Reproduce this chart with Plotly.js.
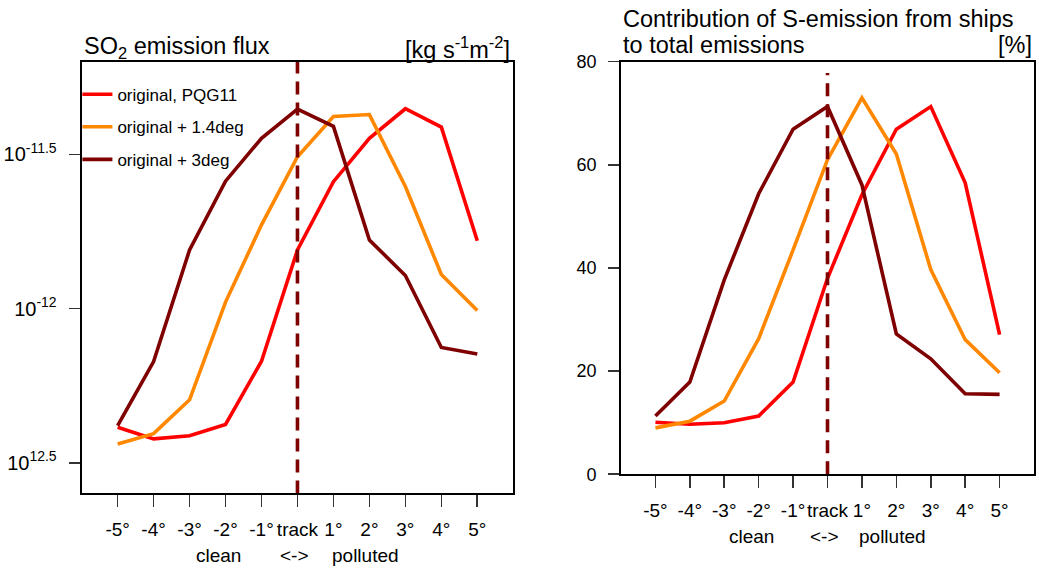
<!DOCTYPE html>
<html>
<head>
<meta charset="utf-8">
<script src="https://cdn.plot.ly/plotly-3.0.1.min.js"></script>
<style>
  html, body { margin: 0; padding: 0; background: #fff; }
  #chart { width: 1039px; height: 570px; }
</style>
</head>
<body>
<div id="chart"></div>
<script>
// ---- data ----
const offsets = [-5, -4, -3, -2, -1, 0, 1, 2, 3, 4, 5];
const offsetLabels = ['-5°', '-4°', '-3°', '-2°', '-1°', 'track', '1°', '2°', '3°', '4°', '5°'];
const seriesNames = ['original, PQG11', 'original + 1.4deg', 'original + 3deg'];

// SO2 emission flux [kg s-1 m-2]
const fluxOriginal = [4.12e-13, 3.78e-13, 3.87e-13, 4.21e-13, 6.75e-13, 1.55e-12, 2.58e-12, 3.57e-12, 4.45e-12, 3.88e-12, 1.66e-12];
const fluxPlus14   = [3.64e-13, 3.93e-13, 5.06e-13, 1.05e-12, 1.87e-12, 3.11e-12, 4.20e-12, 4.26e-12, 2.49e-12, 1.29e-12, 9.86e-13];
const fluxPlus3    = [4.17e-13, 6.73e-13, 1.55e-12, 2.59e-12, 3.57e-12, 4.44e-12, 3.90e-12, 1.67e-12, 1.28e-12, 7.48e-13, 7.13e-13];

// Contribution of ship S-emission to total emissions [%]
const pctOriginal = [10.1, 9.7, 10.0, 11.3, 17.9, 38.0, 54.2, 66.9, 71.3, 56.5, 27.1];
const pctPlus14   = [9.0, 10.3, 14.2, 26.3, 43.5, 61.0, 73.0, 62.1, 39.7, 26.1, 19.7];
const pctPlus3    = [11.3, 17.9, 37.7, 54.4, 66.9, 71.3, 56.1, 27.2, 22.4, 15.6, 15.5];

// track marker (vertical dashed line at offset 0)
const trackX = [0, 0];
const trackFluxY = [2.512e-13, 6.31e-12];
const trackPctY = [0, 77.8];

// y tick labels of the flux panel
const fluxTickVals = [3.162e-12, 1e-12, 3.162e-13];
const fluxTickText = ['10<sup>-11.5</sup>', '10<sup>-12</sup>', '10<sup>12.5</sup>'];
const pctTickVals = [0, 20, 40, 60, 80];

// ---- styling ----
const colors = ['#ff0000', '#ff8800', '#7f0000'];
const FONT = 'Liberation Sans, Arial, Helvetica, sans-serif';
const LW = 3.6;

const fluxSeries = [fluxOriginal, fluxPlus14, fluxPlus3];
const pctSeries = [pctOriginal, pctPlus14, pctPlus3];

const traces = [];
fluxSeries.forEach((ys, i) => {
  traces.push({
    x: offsets, y: ys, type: 'scatter', mode: 'lines',
    name: seriesNames[i], legendgroup: 'g' + i,
    line: { color: colors[i], width: LW },
    xaxis: 'x', yaxis: 'y', showlegend: true
  });
});
traces.push({
  x: trackX, y: trackFluxY, type: 'scatter', mode: 'lines',
  line: { color: '#7f0000', width: LW, dash: '13px,8px' },
  xaxis: 'x', yaxis: 'y', showlegend: false
});
pctSeries.forEach((ys, i) => {
  traces.push({
    x: offsets, y: ys, type: 'scatter', mode: 'lines',
    name: seriesNames[i],
    line: { color: colors[i], width: LW },
    xaxis: 'x2', yaxis: 'y2', showlegend: false
  });
});
traces.push({
  x: trackX, y: trackPctY, type: 'scatter', mode: 'lines',
  line: { color: '#7f0000', width: LW, dash: '13px,8px' },
  xaxis: 'x2', yaxis: 'y2', showlegend: false
});

const xCommon = {
  range: [-6, 6], tickmode: 'array', tickvals: offsets, ticktext: offsetLabels,
  tickangle: 0, ticklabelstandoff: 6,
  showline: true, mirror: true, linecolor: '#000', linewidth: 2,
  ticks: 'outside', ticklen: 12, tickwidth: 1.6, tickcolor: '#333',
  showgrid: false, zeroline: false,
  tickfont: { family: FONT, size: 19, color: '#000' }
};
const yCommon = {
  showline: true, mirror: true, linecolor: '#000', linewidth: 2,
  ticks: 'outside', ticklen: 11, tickwidth: 1.6, tickcolor: '#333',
  showgrid: false, zeroline: false, ticklabelstandoff: 8,
  tickfont: { family: FONT, size: 18, color: '#000' }
};

function axisLabels(xref, yPaper) {
  const f = { family: FONT, size: 19, color: '#000' };
  return [
    { text: 'clean', x: -2.2, xref: xref, y: yPaper, yref: 'paper', yanchor: 'middle', showarrow: false, font: f },
    { text: '&lt;-&gt;', x: -0.08, xref: xref, y: yPaper, yref: 'paper', yanchor: 'middle', showarrow: false, font: f },
    { text: 'polluted', x: 1.9, xref: xref, y: yPaper, yref: 'paper', yanchor: 'middle', showarrow: false, font: f }
  ];
}

const TF = { family: FONT, size: 23.5, color: '#000' };
const annotations = [
  { text: 'SO<sub>2</sub> emission flux', x: 0.0786, xanchor: 'left', y: 0.9158, yanchor: 'middle', xref: 'paper', yref: 'paper', showarrow: false, font: TF },
  { text: '[kg s<sup>-1</sup>m<sup>-2</sup>]', x: 0.4930, xanchor: 'right', y: 0.9158, yanchor: 'middle', xref: 'paper', yref: 'paper', showarrow: false, font: TF },
  { text: 'Contribution of S-emission from ships', x: 0.5977, xanchor: 'left', y: 0.9667, yanchor: 'middle', xref: 'paper', yref: 'paper', showarrow: false, font: TF },
  { text: 'to total emissions', x: 0.5977, xanchor: 'left', y: 0.921, yanchor: 'middle', xref: 'paper', yref: 'paper', showarrow: false, font: TF },
  { text: '[%]', x: 0.9952, xanchor: 'right', y: 0.921, yanchor: 'middle', xref: 'paper', yref: 'paper', showarrow: false, font: TF }
].concat(axisLabels('x', 0.0263), axisLabels('x2', 0.0579));

const layout = {
  width: 1039, height: 570,
  margin: { l: 0, r: 0, t: 0, b: 0 },
  paper_bgcolor: '#fff', plot_bgcolor: '#fff',
  font: { family: FONT, color: '#000' },
  showlegend: true,
  legend: {
    x: 0.0745, y: 0.8655, xanchor: 'left', yanchor: 'top',
    bgcolor: 'rgba(0,0,0,0)', borderwidth: 0,
    font: { family: FONT, size: 17, color: '#000' },
    itemwidth: 30, tracegroupgap: 7.5, traceorder: 'grouped'
  },
  xaxis: Object.assign({}, xCommon, { domain: [0.0786, 0.4940], anchor: 'y' }),
  yaxis: Object.assign({}, yCommon, {
    domain: [0.1346, 0.8918], anchor: 'x', type: 'log', range: [-12.599, -11.199],
    tickmode: 'array', tickvals: fluxTickVals, ticktext: fluxTickText,
    tickfont: { family: FONT, size: 20, color: '#000' }
  }),
  xaxis2: Object.assign({}, xCommon, { domain: [0.5977, 0.9952], anchor: 'y2' }),
  yaxis2: Object.assign({}, yCommon, {
    domain: [0.1679, 0.8918], anchor: 'x2', range: [0, 80],
    tickmode: 'array', tickvals: pctTickVals
  }),
  annotations: annotations
};

Plotly.newPlot('chart', traces, layout, { staticPlot: true, displayModeBar: false });
</script>
</body>
</html>
